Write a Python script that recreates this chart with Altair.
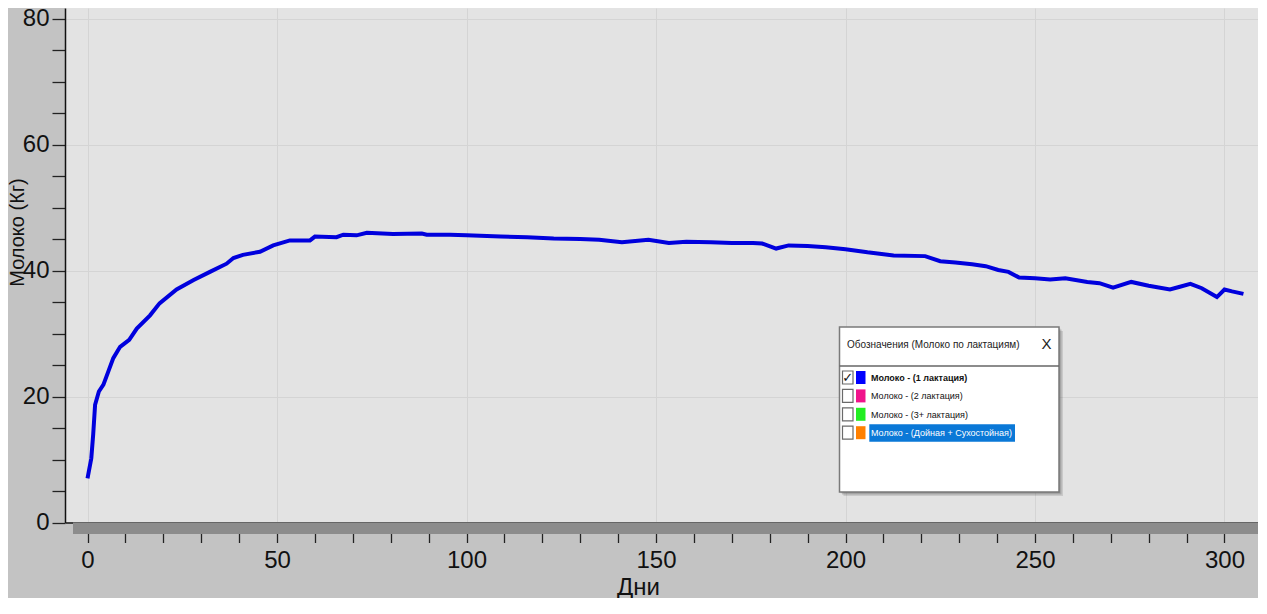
import altair as alt
import pandas as pd

# ---- data ----
days = [0, 1, 1.5, 2, 3, 4.2, 5.5, 6.8, 8.6, 11, 13, 16.5, 19, 23.5, 28, 32.3, 36.7, 38.5, 41, 45.5,
        49, 53.4, 58.7, 60, 65.7, 67.5, 71, 73.7, 80.6, 88.2, 89.5, 95.6, 100, 109, 116, 123, 130, 135,
        141, 148, 153.4, 158, 164.5, 170, 175.6, 178, 181.7, 185, 190, 194.8, 200, 205.8, 212.7, 221,
        225, 229, 233.4, 237, 240.3, 243, 245.8, 250, 254, 258, 263.8, 267, 270.6, 275.4, 280, 285.6,
        288, 291, 294, 298, 300, 302, 305]
milk = [7.0, 10.2, 14.0, 18.7, 20.8, 21.9, 24.0, 26.1, 27.9, 29.0, 30.8, 32.9, 34.8, 37.0, 38.5, 39.8,
        41.1, 42.0, 42.5, 43.0, 44.0, 44.8, 44.8, 45.4, 45.3, 45.7, 45.6, 46.0, 45.8, 45.9, 45.7, 45.7,
        45.6, 45.4, 45.3, 45.1, 45.0, 44.9, 44.5, 44.9, 44.4, 44.6, 44.5, 44.4, 44.4, 44.3, 43.5, 44.0,
        43.9, 43.7, 43.4, 42.9, 42.4, 42.3, 41.5, 41.3, 41.0, 40.7, 40.1, 39.8, 38.9, 38.8, 38.6, 38.8,
        38.2, 38.0, 37.3, 38.2, 37.6, 37.0, 37.4, 37.9, 37.2, 35.8, 37.0, 36.7, 36.3]

x_ticks = list(range(0, 311, 10))
y_ticks = list(range(0, 81, 5))

legend_title = "Обозначения (Молоко по лактациям)"
legend_labels = ["Молоко - (1 лактация)", "Молоко - (2 лактация)",
                 "Молоко - (3+ лактация)", "Молоко - (Дойная + Сухостойная)"]
legend_colors = ["#0000ff", "#f0148c", "#22ee22", "#ff8000"]
legend_checked = [True, False, False, False]

W, H = 1193, 514.5
FONT = "Liberation Sans"

df = pd.DataFrame({"day": days, "milk": milk})
one = pd.DataFrame({"k": [0]})

line = alt.Chart(df).mark_line(color="#0000dd", strokeWidth=4).encode(
    x=alt.X("day:Q",
            scale=alt.Scale(domain=[-5.94, 308.84], nice=False, zero=False),
            axis=alt.Axis(values=x_ticks, title="Дни",
                          labelExpr="datum.value % 50 === 0 ? datum.label : ''",
                          gridOpacity={"condition": {"test": "datum.value % 50 === 0", "value": 1}, "value": 0},
                          labelFlush=False, labelOverlap=False,
                          tickSize=20, labelPadding=6,
                          titleX=573, titleY=52.5, titleBaseline="top", titleAlign="center")),
    y=alt.Y("milk:Q",
            scale=alt.Scale(domain=[0, 81.7], nice=False),
            axis=alt.Axis(values=y_ticks, title="Молоко  (Кг)",
                          labelExpr="datum.value % 20 === 0 ? datum.label : ''",
                          gridOpacity={"condition": {"test": "datum.value % 20 === 0", "value": 1}, "value": 0},
                          labelFlush=False, labelOverlap=False,
                          tickSize=13, labelPadding=3,
                          titleX=-41.8, titleY=224, titleBaseline="alphabetic", titleAlign="center",
                          titleAngle=270, titleFontSize=20)),
)

band = alt.Chart(one).mark_rect(color="#8c8c8c").encode(
    x=alt.value(8), x2=alt.value(W), y=alt.value(H), y2=alt.value(H + 11.5))

# legend box
LX0, LX1, LY0, LY1 = 774.5, 994, 319, 484
layers = [band, line]
for off, op in [(4, 0.18), (2.5, 0.25), (1.2, 0.3)]:
    layers.append(alt.Chart(one).mark_rect(color="#555555", opacity=op).encode(
        x=alt.value(LX0 + off), x2=alt.value(LX1 + off),
        y=alt.value(LY0 + off), y2=alt.value(LY1 + off)))
layers.append(alt.Chart(one).mark_rect(fill="white", stroke="#7a7a7a", strokeWidth=1.5).encode(
    x=alt.value(LX0), x2=alt.value(LX1), y=alt.value(LY0), y2=alt.value(LY1)))
layers.append(alt.Chart(one).mark_text(text=legend_title, align="left", baseline="middle",
                                       fontSize=10, font=FONT, color="#222").encode(
    x=alt.value(782), y=alt.value(337)))
layers.append(alt.Chart(one).mark_text(text="X", align="center", baseline="middle",
                                       fontSize=15, font=FONT, color="#222").encode(
    x=alt.value(981.5), y=alt.value(336)))
layers.append(alt.Chart(one).mark_rule(color="#666666", strokeWidth=1.5).encode(
    x=alt.value(LX0), x2=alt.value(LX1), y=alt.value(358)))

for i, (lab, col, chk) in enumerate(zip(legend_labels, legend_colors, legend_checked)):
    cy = 369.5 + i * 18.4
    if i == 3:
        layers.append(alt.Chart(one).mark_rect(color="#0a78d7").encode(
            x=alt.value(804.3), x2=alt.value(950), y=alt.value(cy - 8.5), y2=alt.value(cy + 9)))
    layers.append(alt.Chart(one).mark_rect(fill="white", stroke="#6a6a6a", strokeWidth=1.2).encode(
        x=alt.value(777.5), x2=alt.value(788), y=alt.value(cy - 6.5), y2=alt.value(cy + 6.5)))
    layers.append(alt.Chart(one).mark_rect(color=col).encode(
        x=alt.value(791), x2=alt.value(800.5), y=alt.value(cy - 6.5), y2=alt.value(cy + 6.5)))
    if chk:
        layers.append(alt.Chart(one).mark_text(text="✓", align="center", baseline="middle",
                                               fontSize=13, fontWeight="bold", font="DejaVu Sans",
                                               color="#111").encode(
            x=alt.value(782.8), y=alt.value(cy + 0.5)))
    layers.append(alt.Chart(one).mark_text(text=lab, align="left", baseline="middle",
                                           fontSize=9, font=FONT,
                                           fontWeight="bold" if i == 0 else "normal",
                                           color="white" if i == 3 else "#111").encode(
        x=alt.value(806), y=alt.value(cy + 0.5)))

chart = alt.layer(*layers).properties(
    width=W, height=H,
    autosize=alt.AutoSizeParams(type="none"),
    padding={"left": 57, "top": 0, "right": 0, "bottom": 75.5},
    background="#c3c3c3",
).configure_view(
    fill="#e3e3e3", stroke=None
).configure_axis(
    labelFont=FONT, titleFont=FONT, labelFontSize=24, titleFontSize=24,
    titleFontWeight="normal", labelColor="#111", titleColor="#111",
    domainColor="#111", domainWidth=1.5, tickColor="#222", tickWidth=1.3,
    gridColor="#d4d4d4", gridWidth=1, zindex=1,
)

chart.save("out.html", embed_options={"renderer": "svg", "actions": False})
